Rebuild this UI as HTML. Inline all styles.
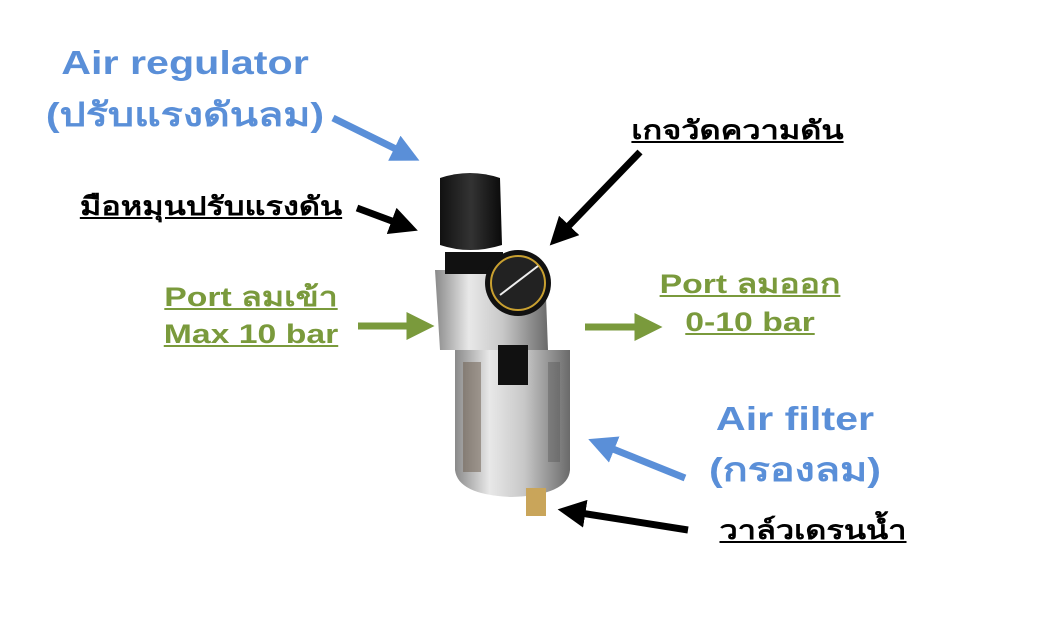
<!DOCTYPE html>
<html><head><meta charset="utf-8"><style>
body{margin:0;width:1047px;height:618px;background:#fff;position:relative;overflow:hidden;font-family:"Liberation Sans","DejaVu Sans",sans-serif;font-weight:bold}
.t{position:absolute;white-space:nowrap;text-align:center;transform:scaleX(1.25);transform-origin:center}
.b{color:#5a8fd8;font-size:33px}
.k{color:#000;font-size:26px;text-decoration:underline}
.g{color:#7a9a3c;font-size:27px;text-decoration:underline}
</style></head><body>
<svg width="1047" height="618" style="position:absolute;left:0;top:0">
<defs>
<linearGradient id="m" x1="0" x2="1"><stop offset="0" stop-color="#8a8a8a"/><stop offset=".3" stop-color="#e8e8e8"/><stop offset=".6" stop-color="#c8c8c8"/><stop offset="1" stop-color="#6a6a6a"/></linearGradient>
<linearGradient id="k" x1="0" x2="1"><stop offset="0" stop-color="#111"/><stop offset=".5" stop-color="#333"/><stop offset="1" stop-color="#0a0a0a"/></linearGradient>
<marker id="ab" markerWidth="4" markerHeight="4" refX="2.5" refY="2" orient="auto"><path d="M0,0L4,2L0,4z" fill="#5a8fd8"/></marker>
<marker id="ak" markerWidth="4" markerHeight="4" refX="2.5" refY="2" orient="auto"><path d="M0,0L4,2L0,4z" fill="#000"/></marker>
<marker id="ag" markerWidth="4" markerHeight="4" refX="2.5" refY="2" orient="auto"><path d="M0,0L4,2L0,4z" fill="#7a9a3c"/></marker>
</defs>
<path d="M455,350 L570,350 L570,470 Q568,495 512,497 Q458,495 455,470z" fill="url(#m)"/>
<rect x="463" y="362" width="18" height="110" fill="#6a5a4a" opacity=".5"/>
<rect x="548" y="362" width="12" height="100" fill="#555" opacity=".4"/>
<path d="M435,270 L545,270 L548,350 L440,350z" fill="url(#m)"/>
<rect x="498" y="345" width="30" height="40" fill="#111"/>
<rect x="445" y="252" width="58" height="22" fill="#111"/>
<path d="M440,178 Q470,168 500,178 L502,245 Q470,255 440,245z" fill="url(#k)"/>
<circle cx="518" cy="283" r="33" fill="#111"/>
<circle cx="518" cy="283" r="27" fill="#222" stroke="#c9a030" stroke-width="2"/>
<line x1="500" y1="295" x2="538" y2="266" stroke="#eee" stroke-width="2"/>
<rect x="526" y="488" width="20" height="28" fill="#c9a55a"/>
<g stroke-width="7" fill="none">
<line x1="333" y1="118" x2="410" y2="156" stroke="#5a8fd8" marker-end="url(#ab)"/>
<line x1="685" y1="478" x2="598" y2="443" stroke="#5a8fd8" marker-end="url(#ab)"/>
<line x1="357" y1="208" x2="408" y2="227" stroke="#000" marker-end="url(#ak)"/>
<line x1="640" y1="152" x2="557" y2="238" stroke="#000" marker-end="url(#ak)"/>
<line x1="688" y1="530" x2="568" y2="511" stroke="#000" marker-end="url(#ak)"/>
<line x1="358" y1="326" x2="424" y2="326" stroke="#7a9a3c" marker-end="url(#ag)"/>
<line x1="585" y1="327" x2="652" y2="327" stroke="#7a9a3c" marker-end="url(#ag)"/>
</g>
</svg>
<div class="t b" style="left:40px;top:44px;width:290px">Air regulator</div>
<div class="t b" style="left:40px;top:88px;width:290px">(ปรับแรงดันลม)</div>
<div class="t k" style="left:82px;top:186px;width:258px">มือหมุนปรับแรงดัน</div>
<div class="t k" style="left:630px;top:110px;width:215px">เกจวัดความดัน</div>
<div class="t g" style="left:160px;top:275px;width:182px">Port ลมเข้า</div>
<div class="t g" style="left:160px;top:319px;width:182px">Max 10 bar</div>
<div class="t g" style="left:655px;top:262px;width:190px">Port ลมออก</div>
<div class="t g" style="left:655px;top:307px;width:190px">0-10 bar</div>
<div class="t b" style="left:700px;top:400px;width:190px">Air filter</div>
<div class="t b" style="left:700px;top:443px;width:190px">(กรองลม)</div>
<div class="t k" style="left:720px;top:510px;width:186px">วาล์วเดรนน้ำ</div>
</body></html>
